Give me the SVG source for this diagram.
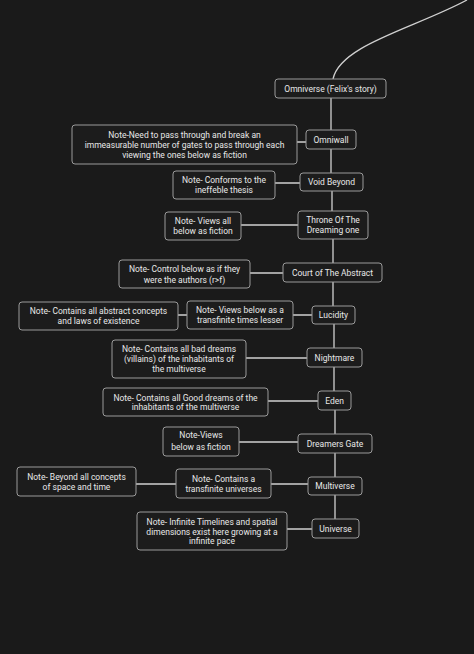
<svg xmlns="http://www.w3.org/2000/svg" width="474" height="654" viewBox="0 0 474 654">
<style>
.b{fill:#1c1c1c;stroke:#9a9a9a;stroke-width:1}
.t{font-family:Roboto,"Liberation Sans",sans-serif;font-size:8.5px;fill:#e8e8e8;text-anchor:middle;dominant-baseline:central}
.c{fill:none;stroke:#d0d0d0;stroke-width:1.3}
</style>
<rect width="474" height="654" fill="#1a1a1a"/>
<g id="connectors">
<path class="c" d="M467,0 C415,28 340,45 333,79"/>
<path class="c" d="M331,98 V130 M331,149 V173 M332,191 V211 M333,239 V263 M333,282 V306 M334,324 V348 M334,367 V391 M335,410 V434 M335,453 V477 M335,495 V519"/>
<path class="c" d="M297,142 H306 M275,183 H300 M241,225 H298 M250,273 H283 M293,315 H312 M178,315 H187 M246,358 H307 M268,401 H318 M239,442 H298 M271,484 H308 M136,484 H176 M287,529 H312"/>
</g>
<g id="omniverse"><rect class="b" x="275" y="79" width="111" height="19" rx="3"/><text class="t" x="330.5" y="88.5">Omniverse (Felix's story)</text></g>
<g id="omniwall"><rect class="b" x="306" y="130" width="50" height="19" rx="3"/><text class="t" x="331" y="139.5">Omniwall</text></g>
<g id="note-omniwall"><rect class="b" x="72" y="125" width="225" height="39" rx="3"/><text class="t" x="184.5" y="135">Note-Need to pass through and break an</text><text class="t" x="184.5" y="145">immeasurable number of gates to pass through each</text><text class="t" x="184.5" y="155">viewing the ones below as fiction</text></g>
<g id="void-beyond"><rect class="b" x="300" y="173" width="63" height="18" rx="3"/><text class="t" x="331.5" y="182">Void Beyond</text></g>
<g id="note-void"><rect class="b" x="173" y="171" width="102" height="28" rx="3"/><text class="t" x="224" y="180">Note- Conforms to the</text><text class="t" x="224" y="190">ineffeble thesis</text></g>
<g id="throne"><rect class="b" x="298" y="211" width="70" height="28" rx="3"/><text class="t" x="333" y="220">Throne Of The</text><text class="t" x="333" y="230">Dreaming one</text></g>
<g id="note-throne"><rect class="b" x="165" y="212" width="76" height="28" rx="3"/><text class="t" x="203" y="221">Note- Views all</text><text class="t" x="203" y="231">below as fiction</text></g>
<g id="court"><rect class="b" x="283" y="263" width="99" height="19" rx="3"/><text class="t" x="332.5" y="272.5">Court of The Abstract</text></g>
<g id="note-court"><rect class="b" x="119" y="260" width="131" height="28" rx="3"/><text class="t" x="184.5" y="269">Note- Control below as if they</text><text class="t" x="184.5" y="279.5">were the authors (r&gt;f)</text></g>
<g id="lucidity"><rect class="b" x="312" y="306" width="43" height="18" rx="3"/><text class="t" x="333.5" y="315">Lucidity</text></g>
<g id="note-lucidity"><rect class="b" x="187" y="301" width="106" height="28" rx="3"/><text class="t" x="240" y="310">Note- Views below as a</text><text class="t" x="240" y="320">transfinite times lesser</text></g>
<g id="note-abstract"><rect class="b" x="19" y="302" width="159" height="28" rx="3"/><text class="t" x="98.5" y="311">Note- Contains all abstract concepts</text><text class="t" x="98.5" y="321">and laws of existence</text></g>
<g id="nightmare"><rect class="b" x="307" y="348" width="55" height="19" rx="3"/><text class="t" x="334.5" y="357.5">Nightmare</text></g>
<g id="note-nightmare"><rect class="b" x="112" y="340" width="134" height="38" rx="3"/><text class="t" x="179" y="349">Note- Contains all bad dreams</text><text class="t" x="179" y="359">(villains) of the inhabitants of</text><text class="t" x="179" y="369">the multiverse</text></g>
<g id="eden"><rect class="b" x="318" y="391" width="33" height="19" rx="3"/><text class="t" x="334.5" y="400.5">Eden</text></g>
<g id="note-eden"><rect class="b" x="103" y="388" width="165" height="28" rx="3"/><text class="t" x="185.5" y="397.5">Note- Contains all Good dreams of the</text><text class="t" x="185.5" y="407">inhabitants of the multiverse</text></g>
<g id="dreamers-gate"><rect class="b" x="298" y="434" width="74" height="19" rx="3"/><text class="t" x="335" y="443.5">Dreamers Gate</text></g>
<g id="note-dreamers"><rect class="b" x="163" y="427" width="76" height="29" rx="3"/><text class="t" x="201" y="435">Note-Views</text><text class="t" x="201" y="447">below as fiction</text></g>
<g id="multiverse"><rect class="b" x="308" y="477" width="54" height="18" rx="3"/><text class="t" x="335" y="486">Multiverse</text></g>
<g id="note-multiverse"><rect class="b" x="176" y="469" width="95" height="29" rx="3"/><text class="t" x="223.5" y="478.5">Note- Contains a</text><text class="t" x="223.5" y="488.5">transfinite universes</text></g>
<g id="note-beyond"><rect class="b" x="17" y="467" width="119" height="29" rx="3"/><text class="t" x="76.5" y="477">Note- Beyond all concepts</text><text class="t" x="76.5" y="487">of space and time</text></g>
<g id="universe"><rect class="b" x="312" y="519" width="47" height="19" rx="3"/><text class="t" x="335.5" y="528.5">Universe</text></g>
<g id="note-universe"><rect class="b" x="137" y="512" width="150" height="38" rx="3"/><text class="t" x="212" y="521.5">Note- Infinite Timelines and spatial</text><text class="t" x="212" y="531.5">dimensions exist here growing at a</text><text class="t" x="212" y="541">infinite pace</text></g>
</svg>
